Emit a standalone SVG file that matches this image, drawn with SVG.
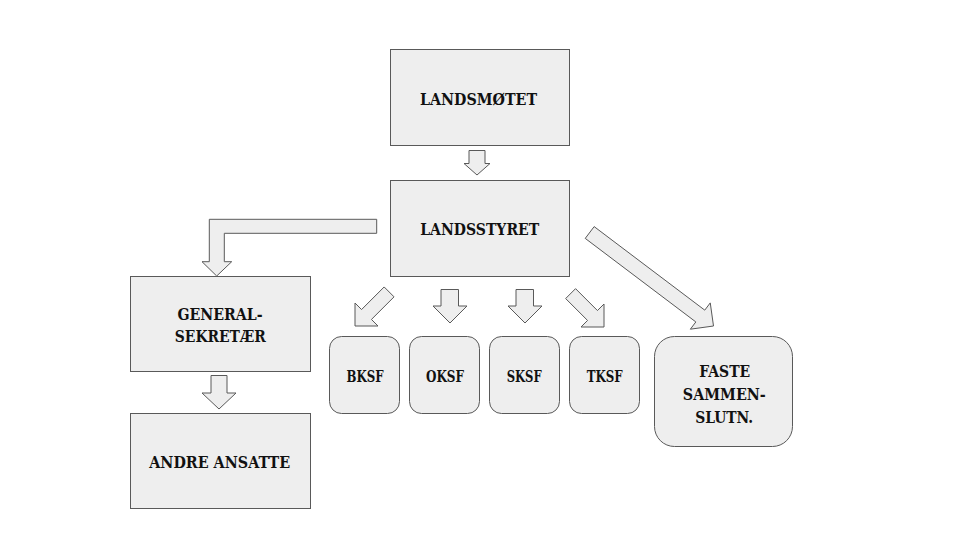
<svg xmlns="http://www.w3.org/2000/svg" width="960" height="540" viewBox="0 0 960 540">
<style>
.box{fill:#eeeeee;stroke:#595959;stroke-width:1}
.arr{fill:#eeeeee;stroke:#595959;stroke-width:1;stroke-linejoin:miter}
.t{font-family:"DejaVu Serif","Liberation Serif",serif;font-weight:bold;font-size:16px;fill:#111111;text-anchor:middle}
</style>
<rect width="960" height="540" fill="#ffffff"/>
<g id="landsmotet"><rect class="box" x="390.5" y="49.5" width="179" height="96"/><text class="t" x="478.5" y="105" textLength="117" lengthAdjust="spacingAndGlyphs">LANDSMØTET</text></g>
<g id="landsstyret"><rect class="box" x="390.5" y="180.5" width="179" height="96"/><text class="t" x="479.7" y="235" textLength="119" lengthAdjust="spacingAndGlyphs">LANDSSTYRET</text></g>
<g id="generalsekretaer"><rect class="box" x="130.5" y="276.5" width="180" height="95"/><text class="t" x="220" y="320" textLength="85" lengthAdjust="spacingAndGlyphs">GENERAL-</text><text class="t" x="220.3" y="342" textLength="91" lengthAdjust="spacingAndGlyphs">SEKRETÆR</text></g>
<g id="andre-ansatte"><rect class="box" x="130.5" y="413.5" width="180" height="95"/><text class="t" x="219.7" y="468" textLength="141" lengthAdjust="spacingAndGlyphs">ANDRE ANSATTE</text></g>
<g id="bksf"><rect class="box" x="329.5" y="336.5" width="70" height="77" rx="12"/><text class="t" x="365" y="381.5" textLength="37" lengthAdjust="spacingAndGlyphs">BKSF</text></g>
<g id="oksf"><rect class="box" x="409.5" y="336.5" width="70" height="77" rx="12"/><text class="t" x="445" y="381.5" textLength="38" lengthAdjust="spacingAndGlyphs">OKSF</text></g>
<g id="sksf"><rect class="box" x="489.5" y="336.5" width="70" height="77" rx="12"/><text class="t" x="524.2" y="381.5" textLength="35" lengthAdjust="spacingAndGlyphs">SKSF</text></g>
<g id="tksf"><rect class="box" x="569.5" y="336.5" width="70" height="77" rx="12"/><text class="t" x="604.7" y="381.5" textLength="36" lengthAdjust="spacingAndGlyphs">TKSF</text></g>
<g id="faste"><rect class="box" x="654.5" y="336.5" width="138" height="110" rx="20"/><text class="t" x="724.7" y="377" textLength="51" lengthAdjust="spacingAndGlyphs">FASTE</text><text class="t" x="724.3" y="400" textLength="83" lengthAdjust="spacingAndGlyphs">SAMMEN-</text><text class="t" x="724.2" y="423" textLength="58" lengthAdjust="spacingAndGlyphs">SLUTN.</text></g>
<g id="connectors">
<polygon class="arr" points="469,150.5 485,150.5 485,163.5 490,163.5 477,175 464,163.5 469,163.5"/>
<polygon class="arr" points="376.7,219.3 209.3,219.3 209.3,261.7 202,261.7 216.7,276 231.7,261.7 224.3,261.7 224.3,233.3 376.7,233.3"/>
<polygon class="arr" points="211,375.5 227,375.5 227,393 236,393 219,409 202,393 211,393"/>
<polygon class="arr" points="441,289.5 458.5,289.5 458.5,306 467,306 450,323 433,306 441,306"/>
<polygon class="arr" points="516,289.5 533.5,289.5 533.5,306 542,306 525,323 508,306 516,306"/>
<polygon class="arr" points="384.15,286.95 394.05,296.85 371.45,319.45 378,326 355,326 355,303 361.55,309.55"/>
<polygon class="arr" points="575.55,288.65 597.45,310.55 604,304 604,327 581,327 587.55,320.45 565.65,298.55"/>
<polygon class="arr" points="594.16,226.6 704.76,310.15 710.25,302.9 713.5,326 690.35,329.2 695.84,321.95 585.24,238.4"/>
</g>
</svg>
